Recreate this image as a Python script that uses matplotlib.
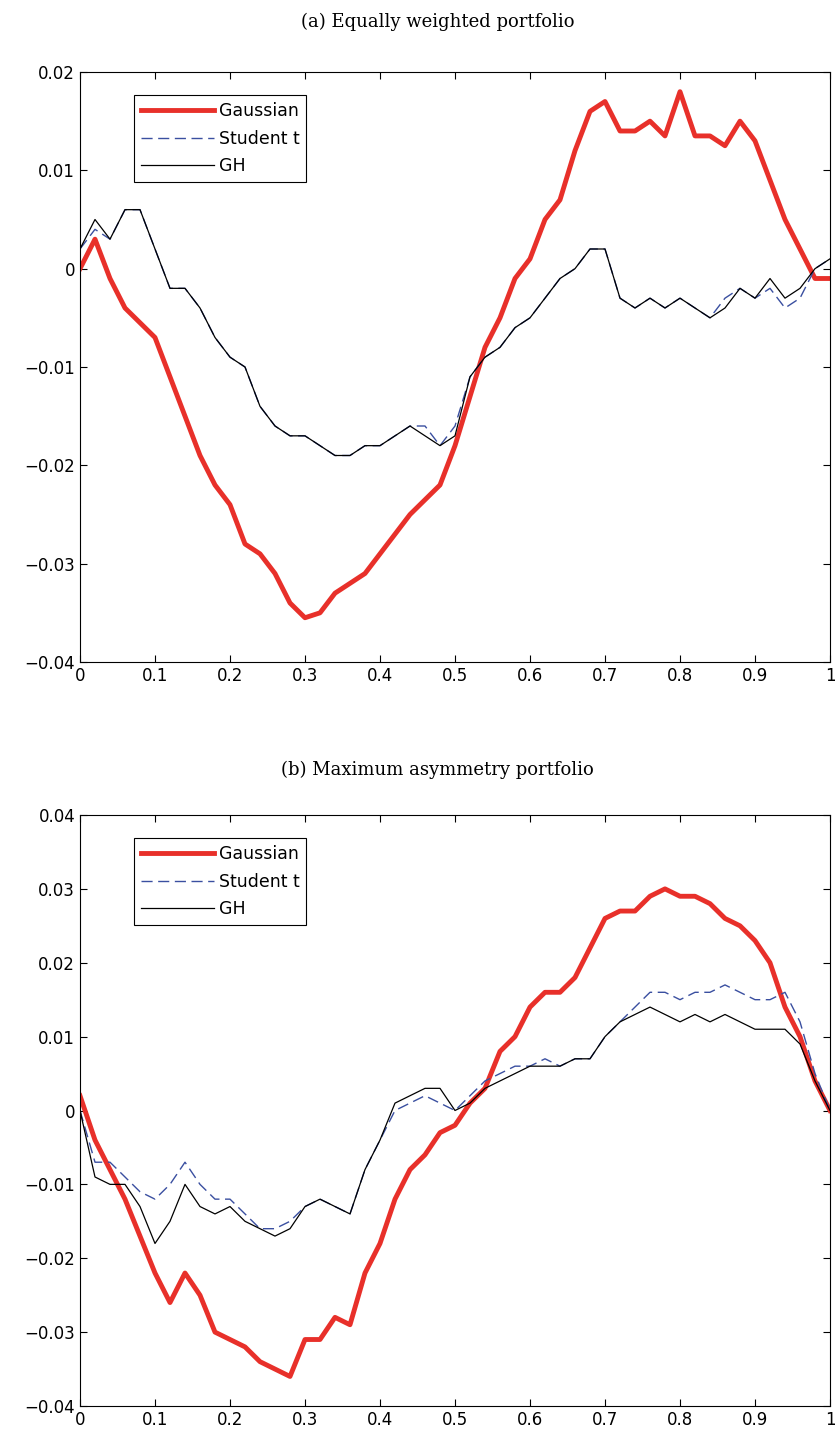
import matplotlib
matplotlib.use("Agg")
import matplotlib.pyplot as plt
import numpy as np

x = np.round(np.arange(0, 1.0001, 0.02), 2)

a_gauss = [0.0,0.003,-0.001,-0.004,-0.0055,-0.007,-0.011,-0.015,-0.019,-0.022,-0.024,-0.028,-0.029,-0.031,-0.034,-0.0355,-0.035,-0.033,-0.032,-0.031,-0.029,-0.027,-0.025,-0.0235,-0.022,-0.018,-0.013,-0.008,-0.005,-0.001,0.001,0.005,0.007,0.012,0.016,0.017,0.014,0.014,0.015,0.0135,0.018,0.0135,0.0135,0.0125,0.015,0.013,0.009,0.005,0.002,-0.001,-0.001]
a_gh = [0.002,0.005,0.003,0.006,0.006,0.002,-0.002,-0.002,-0.004,-0.007,-0.009,-0.010,-0.014,-0.016,-0.017,-0.017,-0.018,-0.019,-0.019,-0.018,-0.018,-0.017,-0.016,-0.017,-0.018,-0.017,-0.011,-0.009,-0.008,-0.006,-0.005,-0.003,-0.001,0.0,0.002,0.002,-0.003,-0.004,-0.003,-0.004,-0.003,-0.004,-0.005,-0.004,-0.002,-0.003,-0.001,-0.003,-0.002,0.0,0.001]
a_t = [0.002,0.004,0.003,0.006,0.006,0.002,-0.002,-0.002,-0.004,-0.007,-0.009,-0.010,-0.014,-0.016,-0.017,-0.017,-0.018,-0.019,-0.019,-0.018,-0.018,-0.017,-0.016,-0.016,-0.018,-0.016,-0.011,-0.009,-0.008,-0.006,-0.005,-0.003,-0.001,0.0,0.002,0.002,-0.003,-0.004,-0.003,-0.004,-0.003,-0.004,-0.005,-0.003,-0.002,-0.003,-0.002,-0.004,-0.003,0.0,0.001]

b_gauss = [0.002,-0.004,-0.008,-0.012,-0.017,-0.022,-0.026,-0.022,-0.025,-0.030,-0.031,-0.032,-0.034,-0.035,-0.036,-0.031,-0.031,-0.028,-0.029,-0.022,-0.018,-0.012,-0.008,-0.006,-0.003,-0.002,0.001,0.003,0.008,0.010,0.014,0.016,0.016,0.018,0.022,0.026,0.027,0.027,0.029,0.030,0.029,0.029,0.028,0.026,0.025,0.023,0.020,0.014,0.010,0.004,0.0]
b_gh = [0.0,-0.009,-0.010,-0.010,-0.013,-0.018,-0.015,-0.010,-0.013,-0.014,-0.013,-0.015,-0.016,-0.017,-0.016,-0.013,-0.012,-0.013,-0.014,-0.008,-0.004,0.001,0.002,0.003,0.003,0.0,0.001,0.003,0.004,0.005,0.006,0.006,0.006,0.007,0.007,0.010,0.012,0.013,0.014,0.013,0.012,0.013,0.012,0.013,0.012,0.011,0.011,0.011,0.009,0.004,0.0]
b_t = [0.0,-0.007,-0.007,-0.009,-0.011,-0.012,-0.010,-0.007,-0.010,-0.012,-0.012,-0.014,-0.016,-0.016,-0.015,-0.013,-0.012,-0.013,-0.014,-0.008,-0.004,0.0,0.001,0.002,0.001,0.0,0.002,0.004,0.005,0.006,0.006,0.007,0.006,0.007,0.007,0.010,0.012,0.014,0.016,0.016,0.015,0.016,0.016,0.017,0.016,0.015,0.015,0.016,0.012,0.005,0.0]

panels = [
    ("(a) Equally weighted portfolio", a_gauss, a_t, a_gh, (-0.04, 0.02), [-0.04,-0.03,-0.02,-0.01,0,0.01,0.02]),
    ("(b) Maximum asymmetry portfolio", b_gauss, b_t, b_gh, (-0.04, 0.04), [-0.04,-0.03,-0.02,-0.01,0,0.01,0.02,0.03,0.04]),
]

fig = plt.figure(figsize=(8.35, 14.46), dpi=100)
rects = [(80/835, 1-662/1446, 750/835, 590/1446), (80/835, 1-1406/1446, 750/835, 591/1446)]
title_y = [22, 770]

def fmt(v):
    if v == 0: return "0"
    s = f"{v:g}"
    return s.replace("-", "\u2212")

for (title, g, t, gh, ylim, yt), r, ty in zip(panels, rects, title_y):
    ax = fig.add_axes(r)
    ax.plot(x, g, color="#e8302a", lw=3.5, label="Gaussian")
    ax.plot(x, t, color="#3a4fa0", lw=1.0, ls=(0, (8, 4)), label="Student t")
    ax.plot(x, gh, color="black", lw=0.9, label="GH")
    ax.set_xlim(0, 1); ax.set_ylim(*ylim)
    ax.set_xticks(np.round(np.arange(0, 1.01, 0.1), 1))
    ax.set_xticklabels(["0"] + [f"{v:.1f}" for v in np.arange(0.1, 0.95, 0.1)] + ["1"])
    ax.set_yticks(yt); ax.set_yticklabels([fmt(v) for v in yt])
    ax.tick_params(direction="in", top=True, right=True, labelsize=12, length=5)
    leg = ax.legend(loc="upper left", bbox_to_anchor=(0.06, 0.975), fontsize=12.5, fancybox=False,
                    edgecolor="black", framealpha=1, handlelength=4.2, borderpad=0.4, labelspacing=0.55,
                    handletextpad=0.3)
    leg.get_frame().set_linewidth(0.8)
    fig.text(0.5 + 40/835/2, 1 - ty/1446, title, ha="center", va="center", family="DejaVu Serif", fontsize=13)

fig.savefig("out.png", dpi=100)
